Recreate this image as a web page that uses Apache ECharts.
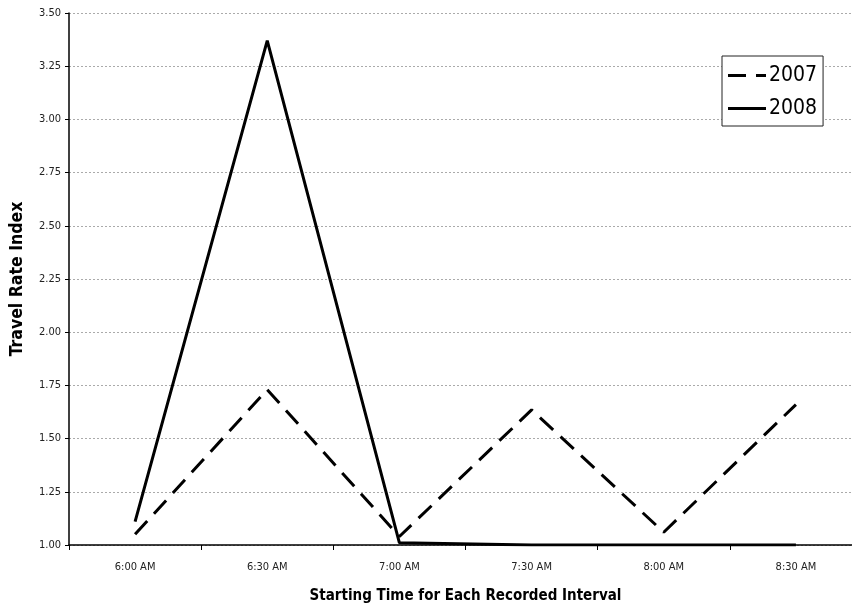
<!DOCTYPE html>
<html>
<head>
<meta charset="utf-8">
<script src="https://cdn.jsdelivr.net/npm/echarts@6/dist/echarts.min.js"></script>
<style>
html,body{margin:0;padding:0;background:#fff;}
#chart{width:852px;height:611px;}
</style>
</head>
<body>
<div id="chart"></div>
<script>
var categories = ['6:00 AM', '6:30 AM', '7:00 AM', '7:30 AM', '8:00 AM', '8:30 AM'];
var values2007 = [1.05, 1.73, 1.04, 1.635, 1.06, 1.66];
var values2008 = [1.11, 3.37, 1.01, 1.00, 1.00, 1.00];
var seriesNames = ['2007', '2008'];

var FONT = "'Liberation Sans Narrow','DejaVu Sans Condensed',sans-serif";
var chart = echarts.init(document.getElementById('chart'));
chart.setOption({
  animation: false,
  backgroundColor: '#fff',
  grid: { left: 69, top: 13, width: 793, bottom: 66, containLabel: false, outerBoundsMode: 'none' },
  legend: {
    orient: 'vertical',
    left: 722, top: 56,
    data: [
      { name: seriesNames[0], icon: 'path://M0,0h18v3h-18z M28,0h10v3h-10z' },
      { name: seriesNames[1], icon: 'path://M0,0h38v3h-38z' }
    ],
    backgroundColor: '#fff',
    borderColor: '#222', borderWidth: 1,
    padding: [9, 6, 7, 6],
    itemGap: 12,
    itemWidth: 38, itemHeight: 3,
    itemStyle: { color: '#000' },
    textStyle: { fontFamily: FONT, fontSize: 21, color: '#000', padding: [0, 0, 0, -2] }
  },
  xAxis: {
    type: 'category',
    data: categories,
    boundaryGap: true,
    name: 'Starting Time for Each Recorded Interval',
    nameLocation: 'middle',
    nameGap: 44,
    nameTextStyle: { fontFamily: FONT, fontWeight: 'bold', fontSize: 15, color: '#000' },
    axisLine: { lineStyle: { color: '#000', width: 1.5 } },
    axisTick: { show: true, length: 5, lineStyle: { color: '#000' } },
    axisLabel: { fontFamily: FONT, fontSize: 11, color: '#222', margin: 17 },
    splitLine: { show: false }
  },
  yAxis: {
    type: 'value',
    min: 1.00, max: 3.50, interval: 0.25,
    name: 'Travel Rate Index',
    nameLocation: 'middle',
    nameGap: 43,
    nameTextStyle: { fontFamily: FONT, fontWeight: 'bold', fontSize: 17.5, color: '#000' },
    axisLine: { show: true, lineStyle: { color: '#000', width: 1.5 } },
    axisTick: { show: true, length: 4, lineStyle: { color: '#000' } },
    axisLabel: { fontFamily: FONT, fontSize: 11, color: '#222', margin: 8,
      formatter: function (v) { return v.toFixed(2); } },
    splitLine: { show: true, lineStyle: { color: '#aaa', type: [2, 2], width: 1 } }
  },
  series: [
    {
      name: seriesNames[0], type: 'line', data: values2007,
      symbol: 'none',
      lineStyle: { color: '#000', width: 3, type: [18, 10] },
      itemStyle: { color: '#000' }
    },
    {
      name: seriesNames[1], type: 'line', data: values2008,
      symbol: 'none',
      lineStyle: { color: '#000', width: 3 },
      itemStyle: { color: '#000' }
    }
  ]
});
</script>
</body>
</html>
